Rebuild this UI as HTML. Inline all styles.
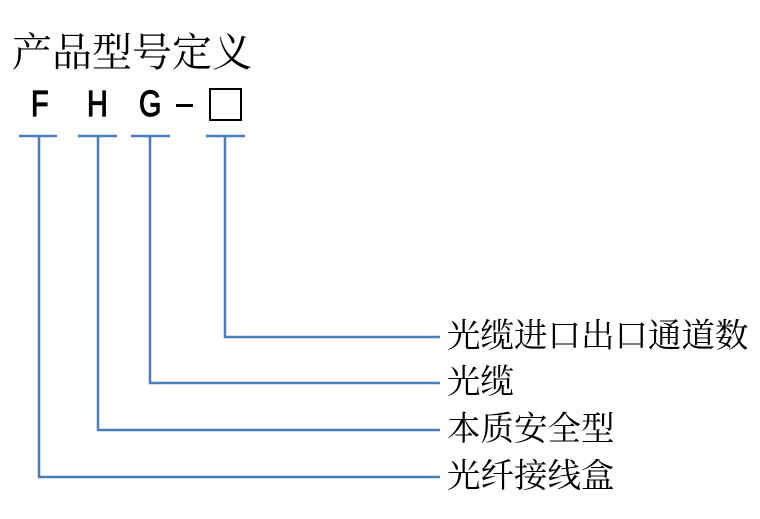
<!DOCTYPE html>
<html><head><meta charset="utf-8"><style>
html,body{margin:0;padding:0;background:#fff;width:760px;height:519px;overflow:hidden;position:relative}
.t{position:absolute;font-family:"Liberation Serif","Noto Serif CJK SC",serif;color:#000;white-space:nowrap;line-height:1}
.l{position:absolute;font-family:"Liberation Sans Narrow","Liberation Sans",sans-serif;font-size:36px;line-height:1;transform:scaleX(0.8);transform-origin:left top;-webkit-text-stroke:1.2px #000}
</style></head><body>
<div class="t" style="left:12px;top:33px;font-size:40px;">产品型号定义</div>
<div class="l" style="left:31px;top:86px;">F</div>
<div class="l" style="left:87px;top:86px;">H</div>
<div class="l" style="left:139px;top:86px;">G</div>
<div style="position:absolute;left:176px;top:104px;width:17px;height:3px;background:#000"></div>
<div style="position:absolute;left:209px;top:88px;width:29px;height:29px;border:2px solid #000"></div>
<svg width="760" height="519" style="position:absolute;left:0;top:0" fill="none" stroke="#4a7ebb" stroke-width="2.5">
<path d="M19 136H57M78 136H117M131 136H170M206 136H245"/>
<path d="M39 136V477H440M98 136V430H440M150 136V383H440M225 136V337H440"/>
</svg>
<div class="t" style="left:447px;top:320px;font-size:33.5px;">光缆进口出口通道数</div>
<div class="t" style="left:447px;top:366px;font-size:33.5px;">光缆</div>
<div class="t" style="left:447px;top:413px;font-size:33.5px;">本质安全型</div>
<div class="t" style="left:447px;top:460px;font-size:33.5px;">光纤接线盒</div>
</body></html>
